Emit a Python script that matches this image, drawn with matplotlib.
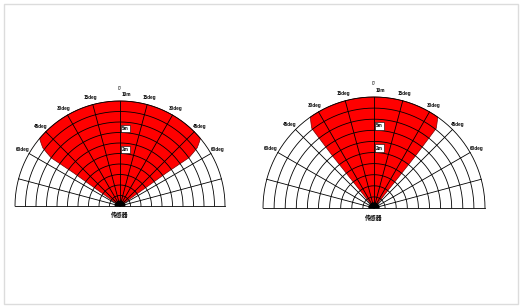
import numpy as np
import matplotlib.pyplot as plt
from matplotlib.patches import Rectangle

# Beam outlines: angle from vertical (deg, + = right) and range (m)
left_theta = [-54.5, -54.5, -55, -53, -50, 0, 50, 53, 55, 54.5, 54.5]
left_r = [0, 5.5, 8.0, 9.2, 10, 10, 10, 9.2, 8.0, 5.5, 0]
right_theta = [-38.5, -38.5, -38, -35, 0, 35, 38, 38.5, 38.5]
right_r = [0, 6, 9.1, 10, 10, 10, 9.1, 6, 0]

ring_values = list(range(1, 11))
spoke_angles = list(range(0, 181, 15))
angle_ticks = [-60, -45, -30, -15, 15, 30, 45, 60]
angle_labels = ['60deg', '45deg', '30deg', '15deg', '15deg', '30deg', '45deg', '60deg']
range_labels = ['5m', '2m']
range_label_r = [7.4, 5.4]
top_label = '10m'
zero_label = '0°'
sensor_label = '传感器'

W, H = 529, 308


def outline(theta, r, step=1.0):
    ts, rs = [], []
    for t0, r0, t1, r1 in zip(theta, r, theta[1:], r[1:]):
        n = max(int(abs(t1 - t0) / step), 1)
        ts.extend(np.linspace(t0, t1, n, endpoint=False))
        rs.extend(np.linspace(r0, r1, n, endpoint=False))
    ts.append(theta[-1])
    rs.append(r[-1])
    ts = np.radians(ts)
    rs = np.array(rs)
    return rs * np.sin(ts), rs * np.cos(ts)


def make_ax(fig, cx, cy, scale):
    # cx, cy: pixel position of the half-disc centre, scale: px per metre
    x0, x1, y0, y1 = -11.6, 11.6, -1.6, 12.2
    left = (cx + x0 * scale) / W
    bottom = (H - (cy - y0 * scale)) / H
    ax = fig.add_axes([left, bottom, (x1 - x0) * scale / W, (y1 - y0) * scale / H])
    ax.set_xlim(x0, x1)
    ax.set_ylim(y0, y1)
    ax.axis('off')
    return ax


def draw_panel(ax, theta, r):
    x, y = outline(theta, r)
    ax.fill(x, y, facecolor='#ff0000', edgecolor='#7a0000', lw=0.5, zorder=1)

    t = np.linspace(0, np.pi, 181)
    for v in ring_values:
        ax.plot(v * np.cos(t), v * np.sin(t), color='black', lw=0.6, zorder=2)
    for a in spoke_angles:
        a = np.radians(a)
        ax.plot([0, 10 * np.cos(a)], [0, 10 * np.sin(a)], color='black', lw=0.6, zorder=2)

    # sensor
    s = np.linspace(0, np.pi, 40)
    ax.fill(0.45 * np.cos(s), 0.45 * np.sin(s), color='black', zorder=3)

    for a, lab in zip(angle_ticks, angle_labels):
        ar = np.radians(a)
        ax.text(10.7 * np.sin(ar), 10.7 * np.cos(ar), lab, fontsize=3.3,
                ha='center', va='center', family='Liberation Sans', fontweight='bold')
    ax.text(0, 11.2, zero_label, fontsize=3.3, ha='center', va='center',
            family='Liberation Sans')
    ax.text(0.15, 10.6, top_label, fontsize=3.3, ha='left', va='center',
            family='Liberation Sans', fontweight='bold')
    for rr, lab in zip(range_label_r, range_labels):
        ax.text(0.5, rr, lab, fontsize=3.3, ha='center', va='center', zorder=4,
                family='Liberation Sans', fontweight='bold',
                bbox=dict(boxstyle='square,pad=0.25', fc='white', ec='black', lw=0.4))
    ax.text(0, -0.85, sensor_label, fontsize=4.2, ha='center', va='center',
            family=['Noto Sans CJK SC', 'DejaVu Sans'], fontweight='bold')


fig = plt.figure(figsize=(W / 100, H / 100), dpi=100)
fig.patch.set_facecolor('white')
fig.add_artist(Rectangle((4 / W, 4 / H), 514 / W, 300 / H, transform=fig.transFigure,
                         fill=False, ec='#dcdcdc', lw=1.0))

ax1 = make_ax(fig, 120, 206, 10.5)
draw_panel(ax1, left_theta, left_r)

ax2 = make_ax(fig, 374, 208, 11.1)
draw_panel(ax2, right_theta, right_r)

fig.savefig('out.png', dpi=100)
